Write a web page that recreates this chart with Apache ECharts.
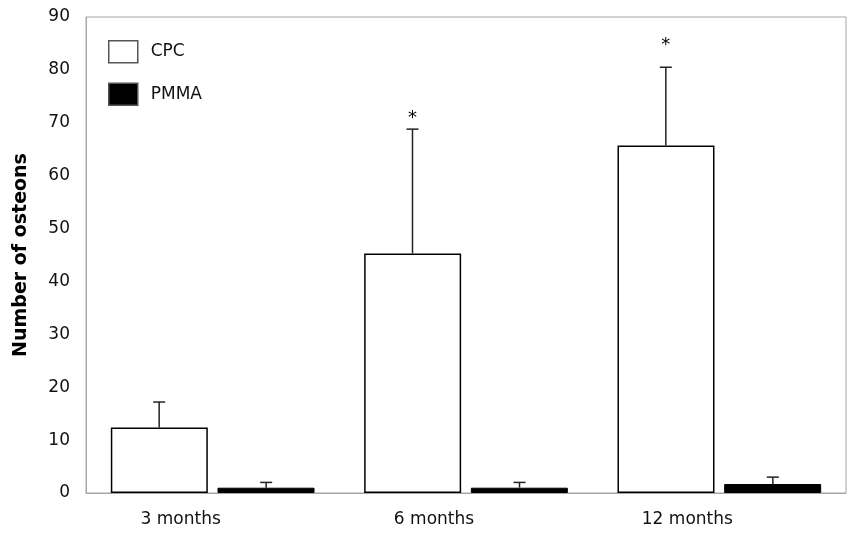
<!DOCTYPE html>
<html>
<head>
<meta charset="utf-8">
<script src="https://cdn.jsdelivr.net/npm/echarts@6/dist/echarts.min.js"></script>
<style>
  html, body { margin: 0; padding: 0; background: #fff; }
  #chart { width: 848px; height: 533px; }
</style>
</head>
<body>
<div id="chart"></div>
<script>
// values
var categories = ["3 months", "6 months", "12 months"];
var cpcMean = [12.4, 45.3, 65.7];
var cpcSd = [4.8, 23.5, 14.8];
var pmmaMean = [1.0, 1.0, 1.7];
var pmmaSd = [1.0, 1.0, 1.3];
// where the significance asterisks sit (y value), null = none
var starAt = [null, 71.6, 85.4];

var font = "DejaVu Sans, Verdana, sans-serif";
var barW = 97;
var barShift = 53.5; // half of bar width + gap

function errorSeries(name, means, sds, shift) {
  return {
    type: "custom",
    name: name + " sd",
    z: 5,
    silent: true,
    data: means.map(function (m, i) { return [i, m, m + sds[i]]; }),
    renderItem: function (params, api) {
      var lo = api.coord([api.value(0), api.value(1)]);
      var hi = api.coord([api.value(0), api.value(2)]);
      var x = lo[0] + shift;
      var st = { stroke: "#222", lineWidth: 1.5 };
      return {
        type: "group",
        children: [
          { type: "line", shape: { x1: x, y1: lo[1], x2: x, y2: hi[1] }, style: st },
          { type: "line", shape: { x1: x - 6, y1: hi[1], x2: x + 6, y2: hi[1] }, style: st }
        ]
      };
    }
  };
}

var chart = echarts.init(document.getElementById("chart"));
chart.setOption({
  animation: false,
  grid: {
    left: 86, right: 2, top: 17, bottom: 40,
    show: true, borderColor: "#a6a6a6", borderWidth: 1
  },
  legend: {
    orient: "vertical",
    left: 103, top: 35,
    icon: "rect",
    itemWidth: 29, itemHeight: 22, itemGap: 19,
    data: ["CPC", "PMMA"],
    itemStyle: { borderColor: "#555", borderWidth: 1.5 },
    textStyle: { fontFamily: font, fontSize: 17, color: "#111", padding: [0, 0, 0, 8] }
  },
  xAxis: {
    type: "category",
    data: categories,
    axisLine: { lineStyle: { color: "#a6a6a6", width: 1 } },
    axisTick: { show: false },
    axisLabel: {
      fontFamily: font, fontSize: 17, color: "#111", margin: 18,
      padding: [0, 64, 0, 0]
    }
  },
  yAxis: {
    type: "value",
    min: 0, max: 90, interval: 10,
    name: "Number of osteons",
    nameLocation: "middle",
    nameGap: 55,
    nameTextStyle: { fontFamily: font, fontSize: 19, fontWeight: "bold", color: "#000" },
    axisLine: { show: true, lineStyle: { color: "#a6a6a6", width: 1 } },
    axisTick: { show: false },
    splitLine: { show: false },
    axisLabel: { fontFamily: font, fontSize: 17, color: "#111", margin: 16 }
  },
  series: [
    {
      name: "CPC",
      type: "bar",
      data: cpcMean,
      barWidth: barW,
      barGap: "10%",
      itemStyle: { color: "#fff", borderColor: "#000", borderWidth: 1.5 }
    },
    {
      name: "PMMA",
      type: "bar",
      data: pmmaMean,
      barWidth: barW,
      itemStyle: { color: "#000", borderColor: "#000", borderWidth: 1 }
    },
    errorSeries("CPC", cpcMean, cpcSd, -barShift),
    errorSeries("PMMA", pmmaMean, pmmaSd, barShift),
    {
      type: "custom",
      name: "stars",
      silent: true,
      data: starAt.map(function (v, i) { return [i, v]; }),
      renderItem: function (params, api) {
        if (starAt[params.dataIndex] == null) return null;
        var p = api.coord([api.value(0), api.value(1)]);
        return {
          type: "text",
          style: {
            x: p[0] - barShift, y: p[1] + 4, text: "*",
            font: "18px " + font, fill: "#000",
            align: "center", verticalAlign: "middle"
          }
        };
      }
    }
  ]
});
</script>
</body>
</html>
